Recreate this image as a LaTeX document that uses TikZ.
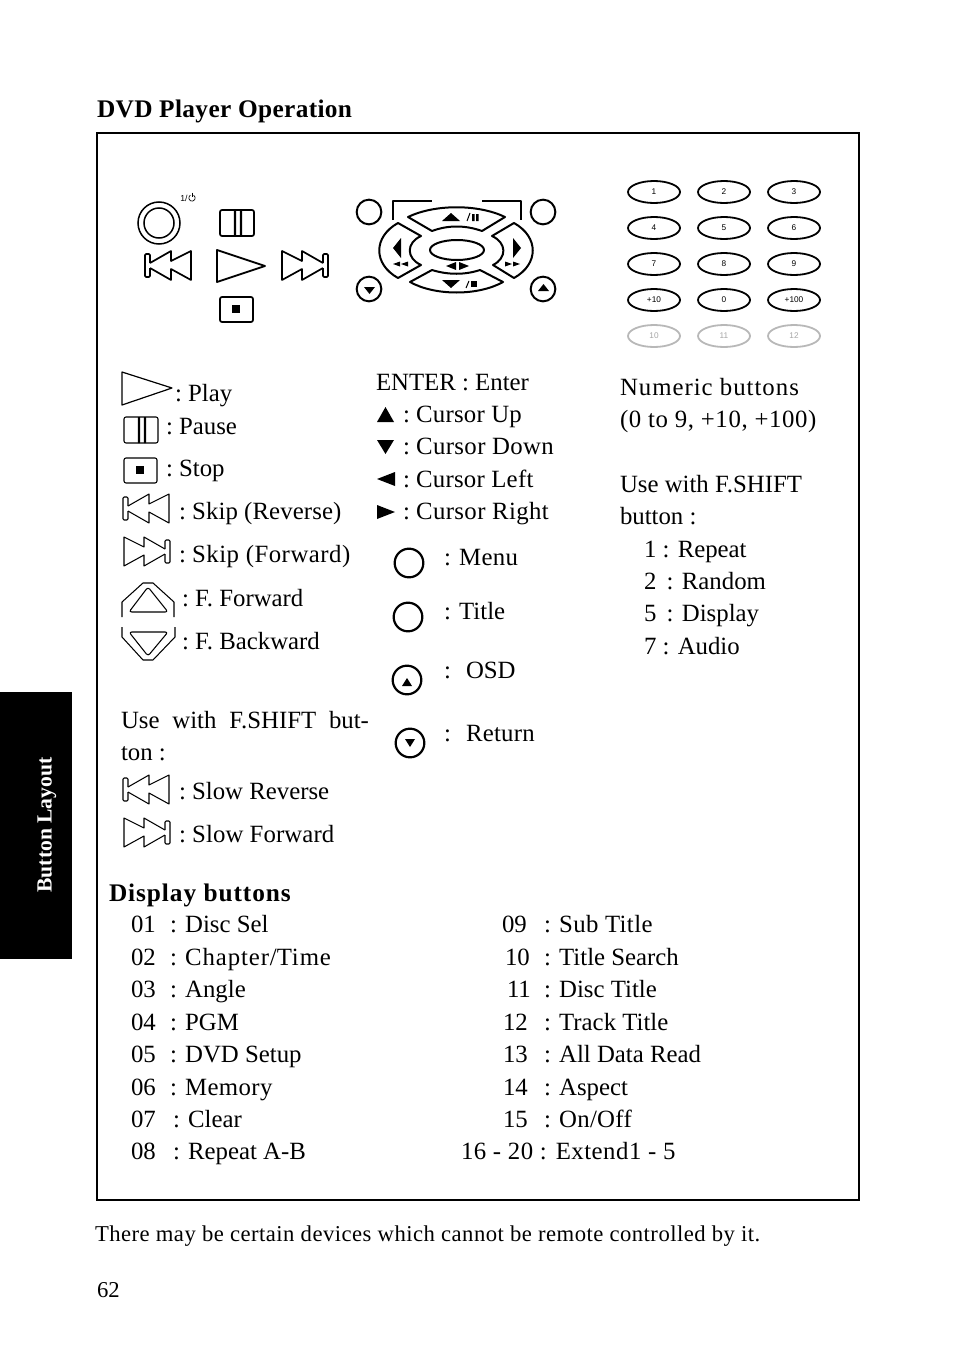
\documentclass[tikz,border=0pt]{standalone}
\usepackage{fontspec}
\setmainfont{Liberation Serif}
\newfontfamily\sansf{Liberation Sans}
\newcommand{\lab}[4]{\node[txt] (#1) at (#2,#3) {#4};}
\newcommand{\trk}[2]{{\addfontfeatures{LetterSpace=#1}#2}}
\newcommand{\cln}{:\kern4.7pt}
\newcommand{\hw}{\fontsize{18.6}{20}\selectfont}
\tikzset{
 txt/.style={anchor=base west,inner sep=0pt,outer sep=0pt,font=\hw,yshift=0.5pt},
 head/.style={txt,yshift=-0.5pt,font=\fontsize{19}{20}\selectfont\bfseries},
 foot/.style={txt,yshift=-0.5pt,font=\fontsize{17}{20}\selectfont},
 icon/.style={draw=black,line width=1.7*0.75pt,line join=round},
 thin icon/.style={draw=black,line width=1.05*0.75pt,line join=round},
 key/.style={draw=black,line width=1.8*0.75pt,ellipse,minimum width=39pt,minimum height=16.5pt,inner sep=0pt,font=\fontsize{6.2}{6.5}\selectfont\sansf},
 greykey/.style={key,draw=black!28,text=black!35},
 ring/.style={draw=black,line width=1.5*0.75pt},
 seg/.style={draw=black,line width=2*0.75pt,line join=round},
 skiprev/.pic={
  \draw[pic actions,rounded corners=0.8pt] (5,12) -- (5,3) -- (0,3) -- (0,26) -- (5,26) -- (5,17);
  \draw[pic actions] (5,12) -- (26,0) -- (26,10) -- (46,0) -- (46,29) -- (26,18) -- (26,29) -- (5,17);
 },
 pausepic/.pic={
  \draw[pic actions,rounded corners=1.5pt] (0,0) rectangle (34,26);
  \fill[black] (13.8,0) rectangle (16.2,26) (19.8,0) rectangle (22.2,26);
 },
 stoppic/.pic={
  \draw[pic actions,rounded corners=1.5pt] (0,0) rectangle (33,25);
  \fill (12,8) rectangle (20,16);
 },
}
\usetikzlibrary{shapes.geometric}
\begin{document}
\begin{tikzpicture}[x=0.75pt,y=-0.75pt]
\useasboundingbox (0,0) rectangle (954,1345);
% side tab and frame
\fill[black] (0,692) rectangle (72,959);
\node[anchor=center,rotate=90,text=white,inner sep=0pt,font=\fontsize{16.2}{18}\selectfont\bfseries] (tab) at (47,825) {Button Layout};
\draw[black,line width=2*0.75pt] (97,133) rectangle (859,1200);
\node[head] (title) at (97,117.6) {\trk{1.4}{DVD Player Operation}};
% main panel left
\draw[ring] (159,223) circle (21);
\draw[ring] (159,223) circle (15);
\node[anchor=base west,inner sep=0pt,font=\fontsize{6.5}{6.5}\selectfont\sansf] (pw) at (180,201) {1/};
\draw[line width=0.5pt] (193.6,195.2) arc (-60:240:3.2);
\draw[line width=0.5pt] (192,192.5) -- (192,197);
\pic[icon] at (220,210) {pausepic};
\pic[icon] at (145,251) {skiprev};
\pic[icon,xscale=-1] at (328,251) {skiprev};
\draw[icon,line width=1.8*0.75pt] (217,250) -- (265,266) -- (217,282) -- cycle;
\pic[icon] at (220,297) {stoppic};
% d-pad
\foreach \n/\x/\y in {a/369/212,b/543/212,c/369/289,d/543/289}{\node[draw=black,line width=2*0.75pt,circle,minimum size=18.5pt,inner sep=0pt] (pad\n) at (\x,\y) {};}
\draw[seg] (393,220) -- (393,201) -- (432,201);
\draw[seg] (482,201) -- (521,201) -- (521,220);
\draw[seg] (457,250) ellipse (27 and 10);
\draw[seg] (408,217) .. controls (435,204) and (478,204) .. (505,217) -- (482,231) .. controls (465,225) and (448,225) .. (432,231) -- cycle;
\draw[seg] (410,282) .. controls (435,296) and (478,296) .. (503,282) -- (480,270) .. controls (465,275) and (448,275) .. (432,270) -- cycle;
\draw[seg] (398,223) -- (421,236) .. controls (406,243) and (406,258) .. (421,265) -- (398,278) .. controls (373,264) and (373,237) .. (398,223) -- cycle;
\draw[seg] (514,223) -- (492,236) .. controls (507,243) and (507,258) .. (493,265) -- (514,278) .. controls (539,264) and (539,237) .. (514,223) -- cycle;
\fill (442,221) -- (460,221) -- (451,213) -- cycle;
\draw[line width=0.75pt] (467,221) -- (470,213);
\fill (472,214) rectangle (474.5,221) (476,214) rectangle (478.5,221);
\fill (442,280) -- (460,280) -- (451,288) -- cycle;
\draw[line width=0.75pt] (466,288) -- (469,281);
\fill (471,281) rectangle (477,287);
\fill (401,238) -- (401,258) -- (393,248) -- cycle;
\fill (513,238) -- (513,258) -- (521,248) -- cycle;
\fill (393,264) -- (400,261.5) -- (400,266.5) -- cycle (401,264) -- (408,261.5) -- (408,266.5) -- cycle;
\fill (512,264) -- (505,261.5) -- (505,266.5) -- cycle (520,264) -- (513,261.5) -- (513,266.5) -- cycle;
\fill (446,266) -- (456,262) -- (456,270) -- cycle (469,266) -- (459,262) -- (459,270) -- cycle;
\fill (364,287) -- (375,287) -- (369.5,294) -- cycle;
\fill (538,291) -- (549,291) -- (543.5,284) -- cycle;
% keypad
\foreach \r/\y/\p/\q/\s in {a/192/1/2/3,b/228/4/5/6,c/264/7/8/9,d/300/+10/0/+100}{
 \node[key] (k\r1) at (654,\y) {\p};
 \node[key] (k\r2) at (724,\y) {\q};
 \node[key] (k\r3) at (794,\y) {\s};
}
\node[greykey] (ke1) at (654,336) {10};
\node[greykey] (ke2) at (724,336) {11};
\node[greykey] (ke3) at (794,336) {12};
% legend left
\draw[thin icon,line width=1.2*0.75pt] (122,372) -- (172,388) -- (122,405) -- cycle;
\lab{lplay}{175}{402}{\cln Play}
\pic[thin icon] at (124,417) {pausepic};
\lab{lpause}{166}{435}{\cln Pause}
\pic[thin icon] at (124,458) {stoppic};
\lab{lstop}{166}{477}{\cln Stop}
\pic[thin icon] at (123,494) {skiprev};
\lab{lskr}{179}{520}{\trk{0.4}{\cln Skip (Reverse)}}
\pic[thin icon,xscale=-1] at (170,537) {skiprev};
\lab{lskf}{179}{563}{\trk{2}{\cln Skip (Forward)}}
\draw[thin icon] (122,617) -- (122,602) -- (143,583) -- (153,583) -- (174,602) -- (174,617);
\draw[thin icon,rounded corners=2pt] (148,587) -- (168,612) -- (129,612) -- cycle;
\lab{lff}{182}{607}{\cln F. Forward}
\draw[thin icon] (122,627) -- (122,637) -- (143,660) -- (153,660) -- (175,637) -- (175,627);
\draw[thin icon,rounded corners=2pt] (129,632) -- (168,632) -- (148,656) -- cycle;
\lab{lfb}{182}{650}{\cln F. Backward}
\node[txt] (shift1) at (121,729) {\hbox to 186pt{Use\hfill with\hfill F.SHIFT\hfill but-}};
\lab{shift2}{121}{761}{ton :}
\pic[thin icon] at (123,775) {skiprev};
\lab{lslr}{179}{800}{\cln Slow Reverse}
\pic[thin icon,xscale=-1] at (170,818) {skiprev};
\lab{lslf}{179}{843}{\trk{0.4}{\cln Slow Forward}}
% legend middle
\lab{ent}{376}{391}{ENTER : Enter}
\fill (377,422) -- (394,422) -- (385.5,407) -- cycle;
\lab{cup}{403}{423}{\trk{1}{\cln Cursor Up}}
\fill (377,440) -- (394,440) -- (385.5,454) -- cycle;
\lab{cdn}{403}{455}{\trk{1.5}{\cln Cursor Down}}
\fill (377,479) -- (395,472) -- (395,486) -- cycle;
\lab{clf}{403}{488}{\trk{1}{\cln Cursor Left}}
\fill (395,512) -- (377,505) -- (377,519) -- cycle;
\lab{crt}{403}{520}{\trk{1.5}{\cln Cursor Right}}
\foreach \n/\x/\y in {m/409/563,t/408/617,o/407/680,r/410/743}{\node[draw=black,line width=2.2*0.75pt,circle,minimum size=21.5pt,inner sep=0pt] (c\n) at (\x,\y) {};}
\fill (402,686) -- (412,686) -- (407,678) -- cycle;
\fill (405,739) -- (415,739) -- (410,747) -- cycle;
\lab{tmenu}{444}{566}{: \trk{1.5}{Menu}}
\lab{ttitle}{444}{620}{: Title}
\lab{tosd}{444}{679}{:}
\lab{tosd2}{466}{679}{OSD}
\lab{tret}{444}{742}{:}
\lab{tret2}{466}{742}{\trk{1}{Return}}
% legend right
\lab{n1}{620}{396}{\trk{4}{Numeric buttons}}
\lab{n2}{620}{428}{\trk{2.5}{(0 to 9, +10, +100)}}
\lab{n3}{620}{493}{Use with F.SHIFT}
\lab{n4}{620}{525}{button :}
\lab{n5}{644}{558}{1 : Repeat}
\lab{n6}{644}{590}{2 \,: Random}
\lab{n7}{644}{622}{5 \,: Display}
\lab{n8}{644}{655}{7 : Audio}
% display buttons
\node[head] (disp) at (109,901) {\trk{3.7}{Display buttons}};
\foreach \i/\y/\num/\cx/\tx in {1/933/01/170/Disc Sel,2/966/02/170/\trk{3.6}{Chapter\slash Time},3/998/03/170/Angle,4/1031/04/170/PGM,5/1063/05/170/DVD Setup,6/1096/06/170/\trk{1.5}{Memory},7/1128/07/173/Clear,8/1160/08/173/Repeat A-B}{
 \node[txt] (dn\i) at (131,\y) {\num};
 \node[txt] (dt\i) at (\cx,\y) {: \tx};
}
\foreach \i/\y/\num/\nx/\tx in {9/933/09/502/\trk{1.5}{Sub Title},10/966/10/505/Title Search,11/998/11/507/Disc Title,12/1031/12/503/Track Title,13/1063/13/503/All Data Read,14/1096/14/503/Aspect,15/1128/15/503/\trk{1.5}{On\slash Off}}{
 \node[txt] (en\i) at (\nx,\y) {\num};
 \node[txt] (et\i) at (544,\y) {: \tx};
}
\lab{e16}{461}{1160}{\trk{2}{16 - 20 : Extend1 - 5}}
\node[foot] (note) at (95,1241) {\trk{2.1}{There may be certain devices which cannot be remote controlled by it.}};
\node[foot] (page) at (97,1297) {62};
\end{tikzpicture}
\end{document}
